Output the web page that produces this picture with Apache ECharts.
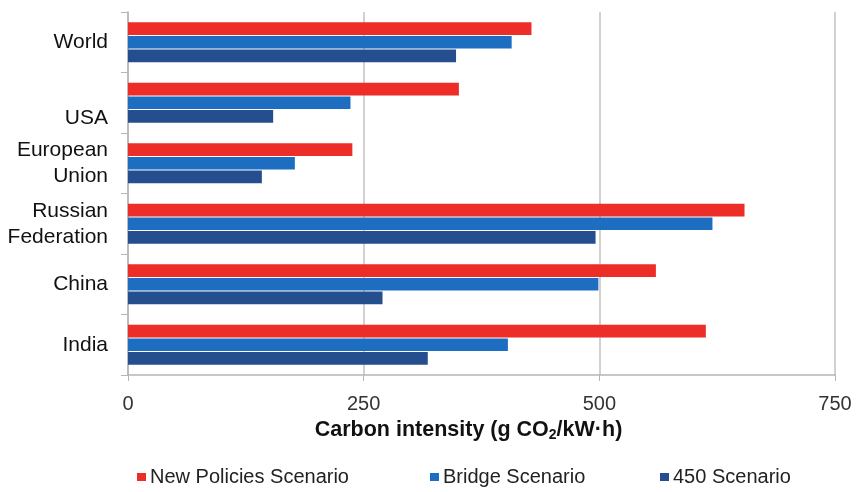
<!DOCTYPE html>
<html><head><meta charset="utf-8">
<script src="https://cdn.jsdelivr.net/npm/echarts@6/dist/echarts.min.js"></script>
<style>html,body{margin:0;padding:0;background:#fff}#c{width:859px;height:492px}</style>
</head><body><div id="c"></div>
<script>
const categories = ['World', 'USA', 'European\nUnion', 'Russian\nFederation', 'China', 'India'];
const newPolicies = [428, 351, 238, 654, 560, 613];
const bridge = [407, 236, 177, 620, 499, 403];
const s450 = [348, 154, 142, 496, 270, 318];
const seriesNames = ['New Policies Scenario', 'Bridge Scenario', '450 Scenario'];
const xTicks = [0, 250, 500, 750];

const colors = ['#EC2D28', '#1D6EC1', '#244E8D'];
const font = 'Liberation Sans, Arial, sans-serif';
const legendLeft = [137, 430, 660];
const chart = echarts.init(document.getElementById('c'));
chart.setOption({
  animation: false,
  textStyle: { fontFamily: font },
  grid: { left: 128, right: 24, top: 12, bottom: 117 },
  legend: seriesNames.map((n, i) => ({
    top: 467, left: legendLeft[i], padding: 0,
    itemWidth: 9, itemHeight: 8, itemGap: 0,
    icon: 'rect',
    textStyle: { fontSize: 20, color: '#222', fontFamily: font, padding: [0, 0, 0, -1] },
    data: [n]
  })),
  xAxis: {
    type: 'value', min: xTicks[0], max: xTicks[xTicks.length - 1], interval: 250,
    axisLine: { show: true, lineStyle: { color: '#b8b4b4', width: 1.5 } },
    axisTick: { show: true, length: 6, lineStyle: { color: '#b8b4b4' } },
    axisLabel: { fontSize: 20, color: '#333', margin: 19 },
    splitLine: { show: true, lineStyle: { color: '#c4c0c0', width: 1.5 } },
    name: '{a|Carbon intensity (g CO}{s|2}{a|/kW·h)}',
    nameLocation: 'middle', nameGap: 40,
    nameTextStyle: {
      padding: [0, 26, 0, 0],
      rich: {
        a: { fontSize: 21.5, fontWeight: 'bold', color: '#111', fontFamily: font },
        s: { fontSize: 14, fontWeight: 'bold', color: '#111', fontFamily: font, verticalAlign: 'bottom', padding: [10, 0, 0, 0] }
      }
    }
  },
  yAxis: {
    type: 'category', inverse: true,
    data: categories,
    axisLine: { show: true, lineStyle: { color: '#b8b4b4', width: 1.5 } },
    axisTick: { show: true, length: 7, lineStyle: { color: '#b8b4b4' } },
    axisLabel: {
      fontSize: 21, color: '#111', margin: 20, lineHeight: 26, align: 'right',
      formatter: v => v === 'USA' ? '{u|USA}' : v,
      rich: { u: { fontSize: 21, color: '#111', fontFamily: font, padding: [30, 0, 0, 0] } }
    },
    splitLine: { show: false }
  },
  series: [
    { name: seriesNames[0], type: 'bar', data: newPolicies, itemStyle: { color: colors[0] }, barCategoryGap: '34%', barGap: '8%' },
    { name: seriesNames[1], type: 'bar', data: bridge, itemStyle: { color: colors[1] }, barCategoryGap: '34%', barGap: '8%' },
    { name: seriesNames[2], type: 'bar', data: s450, itemStyle: { color: colors[2] }, barCategoryGap: '34%', barGap: '8%' }
  ]
});
</script></body></html>
